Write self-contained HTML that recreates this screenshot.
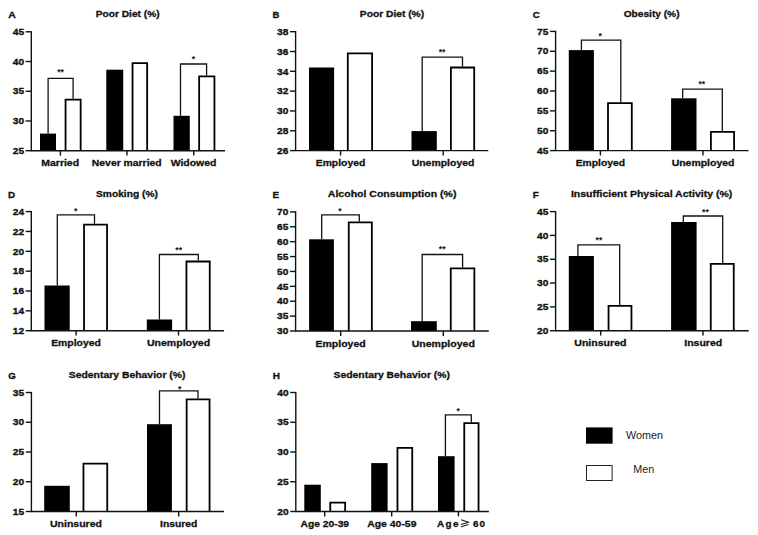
<!DOCTYPE html>
<html><head><meta charset="utf-8"><style>
html,body{margin:0;padding:0;background:#fff;}
svg{display:block;}
.t{font-family:"Liberation Sans",sans-serif;font-weight:bold;font-size:9.9px;fill:#111;stroke:#111;stroke-width:0.3px;}
.n{font-family:"Liberation Sans",sans-serif;font-weight:bold;font-size:9.5px;fill:#111;stroke:#111;stroke-width:0.35px;}
.L{font-family:"Liberation Sans",sans-serif;font-weight:bold;font-size:9.7px;fill:#111;stroke:#111;stroke-width:0.3px;}
.st{font-family:"Liberation Sans",sans-serif;font-weight:bold;font-size:8.6px;fill:#111;}
.lg{font-family:"Liberation Sans",sans-serif;font-size:10.8px;fill:#1a1a1a;}
.ax{stroke:#111;stroke-width:1.4;fill:none;}
.wb{stroke:#000;stroke-width:1.8;fill:#fff;}
.br{stroke:#111;stroke-width:1.3;fill:none;}
</style></head><body>
<svg width="758" height="535" viewBox="0 0 758 535">
<rect width="758" height="535" fill="#fff"/>
<text x="8.3" y="18.3" class="L" textLength="7.6" lengthAdjust="spacingAndGlyphs">A</text>
<text x="127.7" y="17" class="t" text-anchor="middle" textLength="64.08" lengthAdjust="spacingAndGlyphs">Poor Diet (%)</text>
<text x="18.4" y="35" class="n" text-anchor="middle" textLength="11.32" lengthAdjust="spacingAndGlyphs">45</text>
<text x="18.4" y="64.72" class="n" text-anchor="middle" textLength="11.32" lengthAdjust="spacingAndGlyphs">40</text>
<text x="18.4" y="94.45" class="n" text-anchor="middle" textLength="11.32" lengthAdjust="spacingAndGlyphs">35</text>
<text x="18.4" y="124.17" class="n" text-anchor="middle" textLength="11.32" lengthAdjust="spacingAndGlyphs">30</text>
<text x="18.4" y="153.9" class="n" text-anchor="middle" textLength="11.32" lengthAdjust="spacingAndGlyphs">25</text>
<text x="60.2" y="166.3" class="t" text-anchor="middle" textLength="37.72" lengthAdjust="spacingAndGlyphs">Married</text>
<rect x="40" y="133.6" width="16" height="17.1" fill="#000"/>
<path d="M65.55 150.7V99.7H80.65V150.7" class="wb"/>
<path d="M48.1 133.6V78.4H73.1V98.8" class="br"/>
<text x="60.6" y="75.2" class="st" text-anchor="middle">**</text>
<text x="126.75" y="166.3" class="t" text-anchor="middle" textLength="69.76" lengthAdjust="spacingAndGlyphs">Never married</text>
<rect x="106.3" y="69.7" width="16.9" height="81" fill="#000"/>
<path d="M132.55 150.7V63.2H147.15V150.7" class="wb"/>
<text x="193.5" y="166.3" class="t" text-anchor="middle" textLength="45.69" lengthAdjust="spacingAndGlyphs">Widowed</text>
<rect x="173.5" y="115.8" width="16.3" height="34.9" fill="#000"/>
<path d="M199.15 150.7V76.3H214.45V150.7" class="wb"/>
<path d="M180.5 115.8V64H206.6V75.4" class="br"/>
<text x="193.5" y="62.3" class="st" text-anchor="middle">*</text>
<path d="M31.3 31.2V150.7H225" class="ax"/>
<path d="M25.7 31.8H31.3" class="ax"/>
<path d="M25.7 61.52H31.3" class="ax"/>
<path d="M25.7 91.25H31.3" class="ax"/>
<path d="M25.7 120.97H31.3" class="ax"/>
<path d="M25.7 150.7H31.3" class="ax"/>
<path d="M60.4 150.7V155.6" class="ax"/>
<path d="M127 150.7V155.6" class="ax"/>
<path d="M193.7 150.7V155.6" class="ax"/>
<text x="272.6" y="18.2" class="L" textLength="6.9" lengthAdjust="spacingAndGlyphs">B</text>
<text x="392" y="16.9" class="t" text-anchor="middle" textLength="64.28" lengthAdjust="spacingAndGlyphs">Poor Diet (%)</text>
<text x="282.7" y="34.9" class="n" text-anchor="middle" textLength="11.32" lengthAdjust="spacingAndGlyphs">38</text>
<text x="282.7" y="54.72" class="n" text-anchor="middle" textLength="11.32" lengthAdjust="spacingAndGlyphs">36</text>
<text x="282.7" y="74.53" class="n" text-anchor="middle" textLength="11.22" lengthAdjust="spacingAndGlyphs">34</text>
<text x="282.7" y="94.35" class="n" text-anchor="middle" textLength="11.32" lengthAdjust="spacingAndGlyphs">32</text>
<text x="282.7" y="114.17" class="n" text-anchor="middle" textLength="11.32" lengthAdjust="spacingAndGlyphs">30</text>
<text x="282.7" y="133.98" class="n" text-anchor="middle" textLength="11.32" lengthAdjust="spacingAndGlyphs">28</text>
<text x="282.7" y="153.8" class="n" text-anchor="middle" textLength="11.32" lengthAdjust="spacingAndGlyphs">26</text>
<text x="340.5" y="166.2" class="t" text-anchor="middle" textLength="49.49" lengthAdjust="spacingAndGlyphs">Employed</text>
<rect x="309" y="67.5" width="25.1" height="83.1" fill="#000"/>
<path d="M347.8 150.6V53.4H372.1V150.6" class="wb"/>
<text x="443.05" y="166.2" class="t" text-anchor="middle" textLength="62.81" lengthAdjust="spacingAndGlyphs">Unemployed</text>
<rect x="411.5" y="131.1" width="25.3" height="19.5" fill="#000"/>
<path d="M450.9 150.6V67.5H474.2V150.6" class="wb"/>
<path d="M422.2 131.1V57.2H462.5V66.6" class="br"/>
<text x="442.1" y="54.5" class="st" text-anchor="middle">**</text>
<path d="M295.6 31.1V150.6H488.3" class="ax"/>
<path d="M290 31.7H295.6" class="ax"/>
<path d="M290 51.52H295.6" class="ax"/>
<path d="M290 71.33H295.6" class="ax"/>
<path d="M290 91.15H295.6" class="ax"/>
<path d="M290 110.97H295.6" class="ax"/>
<path d="M290 130.78H295.6" class="ax"/>
<path d="M290 150.6H295.6" class="ax"/>
<path d="M340.6 150.6V155.5" class="ax"/>
<path d="M443.2 150.6V155.5" class="ax"/>
<text x="532.7" y="17.9" class="L" textLength="7.1" lengthAdjust="spacingAndGlyphs">C</text>
<text x="651.6" y="16.6" class="t" text-anchor="middle" textLength="55.91" lengthAdjust="spacingAndGlyphs">Obesity (%)</text>
<text x="542.7" y="34.6" class="n" text-anchor="middle" textLength="11.32" lengthAdjust="spacingAndGlyphs">75</text>
<text x="542.7" y="54.47" class="n" text-anchor="middle" textLength="11.32" lengthAdjust="spacingAndGlyphs">70</text>
<text x="542.7" y="74.33" class="n" text-anchor="middle" textLength="11.32" lengthAdjust="spacingAndGlyphs">65</text>
<text x="542.7" y="94.2" class="n" text-anchor="middle" textLength="11.32" lengthAdjust="spacingAndGlyphs">60</text>
<text x="542.7" y="114.07" class="n" text-anchor="middle" textLength="11.32" lengthAdjust="spacingAndGlyphs">55</text>
<text x="542.7" y="133.93" class="n" text-anchor="middle" textLength="11.32" lengthAdjust="spacingAndGlyphs">50</text>
<text x="542.7" y="153.8" class="n" text-anchor="middle" textLength="11.32" lengthAdjust="spacingAndGlyphs">45</text>
<text x="600.35" y="166.2" class="t" text-anchor="middle" textLength="49.39" lengthAdjust="spacingAndGlyphs">Employed</text>
<rect x="568.8" y="50.1" width="25.1" height="100.5" fill="#000"/>
<path d="M608 150.6V103.2H631.8V150.6" class="wb"/>
<path d="M581.4 50.1V40.2H620.8V102.3" class="br"/>
<text x="600.1" y="38.6" class="st" text-anchor="middle">*</text>
<text x="703.05" y="166.2" class="t" text-anchor="middle" textLength="62.81" lengthAdjust="spacingAndGlyphs">Unemployed</text>
<rect x="671.1" y="98.3" width="25.4" height="52.3" fill="#000"/>
<path d="M710.9 150.6V131.9H734.1V150.6" class="wb"/>
<path d="M682.7 98.3V89.1H722.3V131" class="br"/>
<text x="701.8" y="86.6" class="st" text-anchor="middle">**</text>
<path d="M555.6 30.8V150.6H748.5" class="ax"/>
<path d="M550 31.4H555.6" class="ax"/>
<path d="M550 51.27H555.6" class="ax"/>
<path d="M550 71.13H555.6" class="ax"/>
<path d="M550 91H555.6" class="ax"/>
<path d="M550 110.87H555.6" class="ax"/>
<path d="M550 130.73H555.6" class="ax"/>
<path d="M550 150.6H555.6" class="ax"/>
<path d="M600.4 150.6V155.5" class="ax"/>
<path d="M703 150.6V155.5" class="ax"/>
<text x="8.1" y="198.1" class="L" textLength="7.1" lengthAdjust="spacingAndGlyphs">D</text>
<text x="127" y="196.8" class="t" text-anchor="middle" textLength="61.85" lengthAdjust="spacingAndGlyphs">Smoking (%)</text>
<text x="18.4" y="214.8" class="n" text-anchor="middle" textLength="11.22" lengthAdjust="spacingAndGlyphs">24</text>
<text x="18.4" y="234.65" class="n" text-anchor="middle" textLength="11.32" lengthAdjust="spacingAndGlyphs">22</text>
<text x="18.4" y="254.5" class="n" text-anchor="middle" textLength="11.32" lengthAdjust="spacingAndGlyphs">20</text>
<text x="18.4" y="274.35" class="n" text-anchor="middle" textLength="11.32" lengthAdjust="spacingAndGlyphs">18</text>
<text x="18.4" y="294.2" class="n" text-anchor="middle" textLength="11.32" lengthAdjust="spacingAndGlyphs">16</text>
<text x="18.4" y="314.05" class="n" text-anchor="middle" textLength="11.22" lengthAdjust="spacingAndGlyphs">14</text>
<text x="18.4" y="333.9" class="n" text-anchor="middle" textLength="11.32" lengthAdjust="spacingAndGlyphs">12</text>
<text x="76" y="346.3" class="t" text-anchor="middle" textLength="49.69" lengthAdjust="spacingAndGlyphs">Employed</text>
<rect x="44.5" y="285.5" width="25.2" height="45.2" fill="#000"/>
<path d="M84.05 330.7V224.6H107.05V330.7" class="wb"/>
<path d="M57.3 285.5V214.9H94.5V223.7" class="br"/>
<text x="75.6" y="214.4" class="st" text-anchor="middle">*</text>
<text x="178.55" y="346.3" class="t" text-anchor="middle" textLength="63.21" lengthAdjust="spacingAndGlyphs">Unemployed</text>
<rect x="146.8" y="319.5" width="25.3" height="11.2" fill="#000"/>
<path d="M186.45 330.7V261.5H209.75V330.7" class="wb"/>
<path d="M159.4 319.5V254.5H198.3V260.6" class="br"/>
<text x="178.7" y="252.5" class="st" text-anchor="middle">**</text>
<path d="M31.3 211V330.7H224.1" class="ax"/>
<path d="M25.7 211.6H31.3" class="ax"/>
<path d="M25.7 231.45H31.3" class="ax"/>
<path d="M25.7 251.3H31.3" class="ax"/>
<path d="M25.7 271.15H31.3" class="ax"/>
<path d="M25.7 291H31.3" class="ax"/>
<path d="M25.7 310.85H31.3" class="ax"/>
<path d="M25.7 330.7H31.3" class="ax"/>
<path d="M76.1 330.7V335.6" class="ax"/>
<path d="M178.5 330.7V335.6" class="ax"/>
<text x="272.6" y="198.4" class="L" textLength="6.6" lengthAdjust="spacingAndGlyphs">E</text>
<text x="392.15" y="197.1" class="t" text-anchor="middle" textLength="128.6" lengthAdjust="spacingAndGlyphs">Alcohol Consumption (%)</text>
<text x="282.7" y="215.1" class="n" text-anchor="middle" textLength="11.32" lengthAdjust="spacingAndGlyphs">70</text>
<text x="282.7" y="229.99" class="n" text-anchor="middle" textLength="11.32" lengthAdjust="spacingAndGlyphs">65</text>
<text x="282.7" y="244.88" class="n" text-anchor="middle" textLength="11.32" lengthAdjust="spacingAndGlyphs">60</text>
<text x="282.7" y="259.76" class="n" text-anchor="middle" textLength="11.32" lengthAdjust="spacingAndGlyphs">55</text>
<text x="282.7" y="274.65" class="n" text-anchor="middle" textLength="11.32" lengthAdjust="spacingAndGlyphs">50</text>
<text x="282.7" y="289.54" class="n" text-anchor="middle" textLength="11.32" lengthAdjust="spacingAndGlyphs">45</text>
<text x="282.7" y="304.43" class="n" text-anchor="middle" textLength="11.32" lengthAdjust="spacingAndGlyphs">40</text>
<text x="282.7" y="319.31" class="n" text-anchor="middle" textLength="11.32" lengthAdjust="spacingAndGlyphs">35</text>
<text x="282.7" y="334.2" class="n" text-anchor="middle" textLength="11.32" lengthAdjust="spacingAndGlyphs">30</text>
<text x="340.6" y="346.6" class="t" text-anchor="middle" textLength="50.09" lengthAdjust="spacingAndGlyphs">Employed</text>
<rect x="309.1" y="239.3" width="24.8" height="91.7" fill="#000"/>
<path d="M348.75 331V222.4H371.85V331" class="wb"/>
<path d="M321.7 239.3V214.9H359.3V221.5" class="br"/>
<text x="340" y="214.4" class="st" text-anchor="middle">*</text>
<text x="443.3" y="346.6" class="t" text-anchor="middle" textLength="63.11" lengthAdjust="spacingAndGlyphs">Unemployed</text>
<rect x="411" y="321.2" width="25.8" height="9.8" fill="#000"/>
<path d="M450.75 331V268.4H474.35V331" class="wb"/>
<path d="M422.2 321.2V254.5H462.6V267.5" class="br"/>
<text x="442.2" y="252.3" class="st" text-anchor="middle">**</text>
<path d="M295.6 211.3V331H488.8" class="ax"/>
<path d="M290 211.9H295.6" class="ax"/>
<path d="M290 226.79H295.6" class="ax"/>
<path d="M290 241.68H295.6" class="ax"/>
<path d="M290 256.56H295.6" class="ax"/>
<path d="M290 271.45H295.6" class="ax"/>
<path d="M290 286.34H295.6" class="ax"/>
<path d="M290 301.23H295.6" class="ax"/>
<path d="M290 316.11H295.6" class="ax"/>
<path d="M290 331H295.6" class="ax"/>
<path d="M340.7 331V335.9" class="ax"/>
<path d="M443.3 331V335.9" class="ax"/>
<text x="532.7" y="198.1" class="L" textLength="6.1" lengthAdjust="spacingAndGlyphs">F</text>
<text x="651.65" y="196.8" class="t" text-anchor="middle" textLength="161.45" lengthAdjust="spacingAndGlyphs">Insufficient Physical Activity (%)</text>
<text x="542.7" y="214.8" class="n" text-anchor="middle" textLength="11.32" lengthAdjust="spacingAndGlyphs">45</text>
<text x="542.7" y="238.62" class="n" text-anchor="middle" textLength="11.32" lengthAdjust="spacingAndGlyphs">40</text>
<text x="542.7" y="262.44" class="n" text-anchor="middle" textLength="11.32" lengthAdjust="spacingAndGlyphs">35</text>
<text x="542.7" y="286.26" class="n" text-anchor="middle" textLength="11.32" lengthAdjust="spacingAndGlyphs">30</text>
<text x="542.7" y="310.08" class="n" text-anchor="middle" textLength="11.32" lengthAdjust="spacingAndGlyphs">25</text>
<text x="542.7" y="333.9" class="n" text-anchor="middle" textLength="11.32" lengthAdjust="spacingAndGlyphs">20</text>
<text x="600.4" y="346.3" class="t" text-anchor="middle" textLength="52.15" lengthAdjust="spacingAndGlyphs">Uninsured</text>
<rect x="568.8" y="256" width="25.1" height="74.7" fill="#000"/>
<path d="M608.55 330.7V305.8H631.45V330.7" class="wb"/>
<path d="M577.9 256V244.9H619.7V304.9" class="br"/>
<text x="598.9" y="242.5" class="st" text-anchor="middle">**</text>
<text x="703.25" y="346.3" class="t" text-anchor="middle" textLength="38.02" lengthAdjust="spacingAndGlyphs">Insured</text>
<rect x="671.1" y="222" width="25.5" height="108.7" fill="#000"/>
<path d="M710.75 330.7V263.8H733.75V330.7" class="wb"/>
<path d="M683.3 222V216H722.7V262.9" class="br"/>
<text x="705.4" y="214.5" class="st" text-anchor="middle">**</text>
<path d="M555.6 211V330.7H748.7" class="ax"/>
<path d="M550 211.6H555.6" class="ax"/>
<path d="M550 235.42H555.6" class="ax"/>
<path d="M550 259.24H555.6" class="ax"/>
<path d="M550 283.06H555.6" class="ax"/>
<path d="M550 306.88H555.6" class="ax"/>
<path d="M550 330.7H555.6" class="ax"/>
<path d="M600.7 330.7V335.6" class="ax"/>
<path d="M703 330.7V335.6" class="ax"/>
<text x="8.3" y="379" class="L" textLength="7.6" lengthAdjust="spacingAndGlyphs">G</text>
<text x="127.15" y="377.7" class="t" text-anchor="middle" textLength="116.75" lengthAdjust="spacingAndGlyphs">Sedentary Behavior (%)</text>
<text x="18.5" y="395.7" class="n" text-anchor="middle" textLength="11.32" lengthAdjust="spacingAndGlyphs">35</text>
<text x="18.5" y="425.45" class="n" text-anchor="middle" textLength="11.32" lengthAdjust="spacingAndGlyphs">30</text>
<text x="18.5" y="455.2" class="n" text-anchor="middle" textLength="11.32" lengthAdjust="spacingAndGlyphs">25</text>
<text x="18.5" y="484.95" class="n" text-anchor="middle" textLength="11.32" lengthAdjust="spacingAndGlyphs">20</text>
<text x="18.5" y="514.7" class="n" text-anchor="middle" textLength="11.32" lengthAdjust="spacingAndGlyphs">15</text>
<text x="76" y="527.1" class="t" text-anchor="middle" textLength="51.95" lengthAdjust="spacingAndGlyphs">Uninsured</text>
<rect x="44.2" y="485.8" width="25.6" height="25.7" fill="#000"/>
<path d="M83.45 511.5V463.6H107.25V511.5" class="wb"/>
<text x="178.7" y="527.1" class="t" text-anchor="middle" textLength="37.32" lengthAdjust="spacingAndGlyphs">Insured</text>
<rect x="147" y="424.2" width="24.9" height="87.3" fill="#000"/>
<path d="M186.65 511.5V399.3H209.55V511.5" class="wb"/>
<path d="M159.5 424.2V390.9H198V398.4" class="br"/>
<text x="179.7" y="391.5" class="st" text-anchor="middle">*</text>
<path d="M31.4 391.9V511.5H224" class="ax"/>
<path d="M25.8 392.5H31.4" class="ax"/>
<path d="M25.8 422.25H31.4" class="ax"/>
<path d="M25.8 452H31.4" class="ax"/>
<path d="M25.8 481.75H31.4" class="ax"/>
<path d="M25.8 511.5H31.4" class="ax"/>
<path d="M76.3 511.5V516.4" class="ax"/>
<path d="M178.7 511.5V516.4" class="ax"/>
<text x="272.7" y="379" class="L" textLength="7.2" lengthAdjust="spacingAndGlyphs">H</text>
<text x="391.8" y="377.7" class="t" text-anchor="middle" textLength="116.45" lengthAdjust="spacingAndGlyphs">Sedentary Behavior (%)</text>
<text x="282.9" y="395.7" class="n" text-anchor="middle" textLength="11.32" lengthAdjust="spacingAndGlyphs">40</text>
<text x="282.9" y="425.45" class="n" text-anchor="middle" textLength="11.32" lengthAdjust="spacingAndGlyphs">35</text>
<text x="282.9" y="455.2" class="n" text-anchor="middle" textLength="11.32" lengthAdjust="spacingAndGlyphs">30</text>
<text x="282.9" y="484.95" class="n" text-anchor="middle" textLength="11.32" lengthAdjust="spacingAndGlyphs">25</text>
<text x="282.9" y="514.7" class="n" text-anchor="middle" textLength="11.32" lengthAdjust="spacingAndGlyphs">20</text>
<text x="324.8" y="527.1" class="t" text-anchor="middle" textLength="48.54" lengthAdjust="spacingAndGlyphs">Age 20-39</text>
<rect x="304.3" y="484.7" width="16.5" height="26.8" fill="#000"/>
<path d="M330.25 511.5V502.7H345.15V511.5" class="wb"/>
<text x="391.85" y="527.1" class="t" text-anchor="middle" textLength="49.24" lengthAdjust="spacingAndGlyphs">Age 40-59</text>
<rect x="371.2" y="463.1" width="16.4" height="48.4" fill="#000"/>
<path d="M397.45 511.5V447.8H412.25V511.5" class="wb"/>
<text x="436.9" y="527" class="t" textLength="21.6" lengthAdjust="spacing">Age</text>
<text x="473" y="527" class="t" textLength="12" lengthAdjust="spacing">60</text>
<path d="M461.1 519.8L468.5 522.3L461.1 524.6M461.1 526.8L468.5 524.5" fill="none" stroke="#1a1a1a" stroke-width="1.05"/>
<rect x="438" y="456.2" width="16.6" height="55.3" fill="#000"/>
<path d="M464.25 511.5V423.1H478.55V511.5" class="wb"/>
<path d="M445.4 456.2V414.8H471.3V422.2" class="br"/>
<text x="458.1" y="414.2" class="st" text-anchor="middle">*</text>
<path d="M295.8 391.9V511.5H488.9" class="ax"/>
<path d="M290.2 392.5H295.8" class="ax"/>
<path d="M290.2 422.25H295.8" class="ax"/>
<path d="M290.2 452H295.8" class="ax"/>
<path d="M290.2 481.75H295.8" class="ax"/>
<path d="M290.2 511.5H295.8" class="ax"/>
<path d="M324.7 511.5V516.4" class="ax"/>
<path d="M391.7 511.5V516.4" class="ax"/>
<path d="M458.4 511.5V516.4" class="ax"/>
<rect x="586" y="427.4" width="26.6" height="16.3" fill="#000"/>
<rect x="586.5" y="465.5" width="25.6" height="15" fill="#fff" stroke="#222" stroke-width="1"/>
<text x="626" y="439.2" class="lg">Women</text>
<text x="633.2" y="473.4" class="lg">Men</text>
</svg>
</body></html>
